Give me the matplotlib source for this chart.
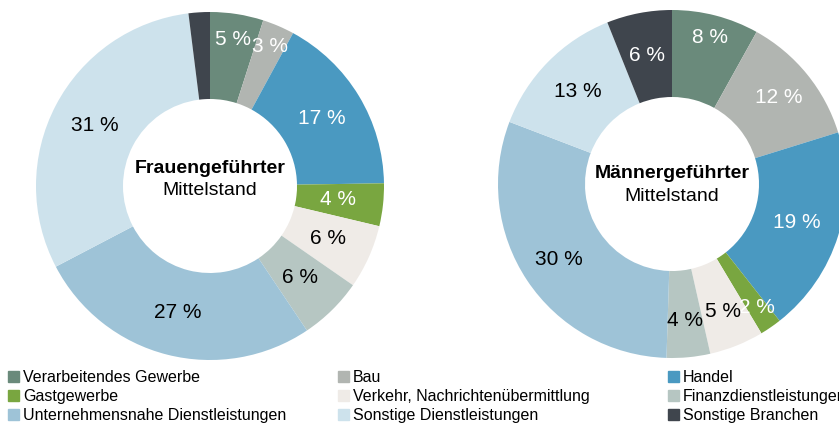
import numpy as np
import matplotlib
matplotlib.use("Agg")
import matplotlib.pyplot as plt

plt.rcParams['font.family'] = ['Liberation Sans', 'DejaVu Sans']

categories = ["Verarbeitendes Gewerbe", "Bau", "Handel", "Gastgewerbe",
              "Verkehr, Nachrichtenübermittlung", "Finanzdienstleistungen",
              "Unternehmensnahe Dienstleistungen", "Sonstige Dienstleistungen",
              "Sonstige Branchen"]
frauen = [5, 3, 17, 4, 6, 6, 27, 31, 2]
maenner = [8, 12, 19, 2, 5, 4, 30, 13, 6]
frauen_labels = ["5 %", "3 %", "17 %", "4 %", "6 %", "6 %", "27 %", "31 %", ""]
maenner_labels = ["8 %", "12 %", "19 %", "2 %", "5 %", "4 %", "30 %", "13 %", "6 %"]

colors = ["#6a8a7b", "#b1b5b1", "#4a99c1", "#79a640", "#efebe7",
          "#b6c6c2", "#9ec3d7", "#cde2ec", "#3f454d"]
text_colors = ["white", "white", "white", "white", "black",
               "black", "black", "black", "white"]

fig = plt.figure(figsize=(8.39, 4.30), dpi=100)
ax = fig.add_axes([0, 0, 1, 1])
ax.set_xlim(0, 839)
ax.set_ylim(0, 430)
ax.set_aspect('equal')
ax.axis('off')

R = 174
W = 87


def donut(values, labels, center, label_r, title, title_dy, sub_dy):
    wedges, _ = ax.pie(values, colors=colors, startangle=90, counterclock=False,
                       center=center, radius=R, frame=True,
                       wedgeprops=dict(width=W, linewidth=0))
    for w, lab, tc, lr in zip(wedges, labels, text_colors, label_r):
        if not lab:
            continue
        ang = np.deg2rad((w.theta1 + w.theta2) / 2)
        r = R * lr
        ax.text(center[0] + r * np.cos(ang), center[1] + r * np.sin(ang), lab,
                ha='center', va='center', fontsize=15, color=tc)
    ax.text(center[0], center[1] + title_dy, title, ha='center', va='baseline',
            fontsize=14, fontweight='bold', color='black')
    ax.text(center[0], center[1] + sub_dy, "Mittelstand", ha='center', va='baseline',
            fontsize=14, color='black')


donut(frauen, frauen_labels, (210, 244),
      [0.85, 0.87, 0.75, 0.74, 0.74, 0.74, 0.75, 0.75, 0.75],
      "Frauengeführter", 13, -9)
donut(maenner, maenner_labels, (672, 246),
      [0.87, 0.79, 0.75, 0.86, 0.79, 0.79, 0.78, 0.76, 0.75],
      "Männergeführter", 6, -17)

ax.set_xlim(0, 839)
ax.set_ylim(0, 430)

col_x = [8, 338, 668]
for ci in range(3):
    idx = [ci, ci + 3, ci + 6]
    handles = [plt.Rectangle((0, 0), 1, 1, color=colors[i]) for i in idx]
    fig.legend(handles, [categories[i] for i in idx],
               loc='upper left', bbox_to_anchor=(col_x[ci] / 839, 1 - 370 / 430),
               bbox_transform=fig.transFigure, frameon=False, fontsize=11.5,
               handlelength=0.7, handleheight=0.7, handletextpad=0.25,
               labelspacing=0.25, borderpad=0, borderaxespad=0)

fig.savefig("out.png", dpi=100)
